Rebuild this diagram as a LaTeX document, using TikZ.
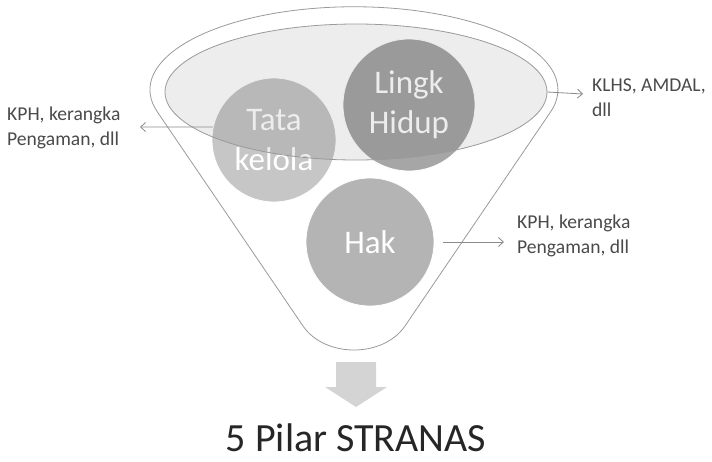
\documentclass[tikz,border=0pt]{standalone}
\usepackage{fontspec}
\setmainfont{Carlito}
\usetikzlibrary{arrows.meta,shapes.geometric}
\definecolor{lineg}{HTML}{9A9A9A}
\definecolor{arrg}{HTML}{8A8A8A}
\definecolor{txtg}{HTML}{4A4A4A}
\definecolor{titleg}{HTML}{262626}
\definecolor{ctata}{HTML}{C6C6C6}
\definecolor{clingk}{HTML}{A6A6A6}
\definecolor{chak}{HTML}{B4B4B4}
\definecolor{cblock}{HTML}{D4D4D4}
\tikzset{
  pillar/.style={circle, draw=white, line width=0.8pt, inner sep=0pt, text=white, align=center,
    font=\fontsize{33}{40}\selectfont},
  sidelabel/.style={anchor=west, align=left, text=txtg, inner sep=0pt,
    font=\fontsize{19.6}{25}\selectfont},
  pointer/.style={draw=arrg, line width=0.8pt, -{Straight Barb[length=5pt,width=9pt]}},
  funnelline/.style={draw=lineg, line width=0.8pt}
}
\begin{document}
\begin{tikzpicture}[x=1pt,y=-1pt]
\useasboundingbox (0,0) rectangle (712,461);
% funnel body
\path[funnelline, fill=white] (157.3,111.8) arc[start angle=195.4, end angle=-15.4, x radius=204pt, y radius=83pt]
  -- (405,326) .. controls (383,358) and (325,358) .. (303,326) -- cycle;
% pillars
\node[pillar, fill=ctata, minimum size=124pt] (tata) at (274,140) {Tata\\kelola};
\node[pillar, fill=chak, minimum size=128pt] (hak) at (370,242) {Hak};
\node[pillar, fill=clingk, minimum size=132pt] (lingk) at (409,105) {Lingk\\Hidup};
% inner rim surface
\node[ellipse, draw=lineg, line width=0.8pt, fill=black, fill opacity=0.07,
  minimum width=382pt, minimum height=136pt, inner sep=0pt] (rim) at (356,92) {};
% pointers and labels
\coordinate (lt) at (140,127);
\coordinate (rt) at (583,94);
\coordinate (ht) at (504,242);
\draw[pointer] (tata.168) -- (lt);
\draw[pointer] (rim.east) -- (rt);
\draw[pointer] ([xshift=9pt]hak.east) -- (ht);
\node[sidelabel] (ll) at (7,127.5) {KPH, kerangka\\Pengaman, dll};
\node[sidelabel] (rl) at (592,97.5) {KLHS, AMDAL,\\dll};
\node[sidelabel] (hl) at (517,235.5) {KPH, kerangka\\Pengaman, dll};
% block arrow
\fill[cblock] (336,362) -- (376,362) -- (376,387) -- (387,387) -- (356,407) -- (325,387) -- (336,387) -- cycle;
\node[text=titleg, font=\fontsize{40}{48}\selectfont, inner sep=0pt] (title) at (356,438) {5 Pilar STRANAS};
\end{tikzpicture}
\end{document}
